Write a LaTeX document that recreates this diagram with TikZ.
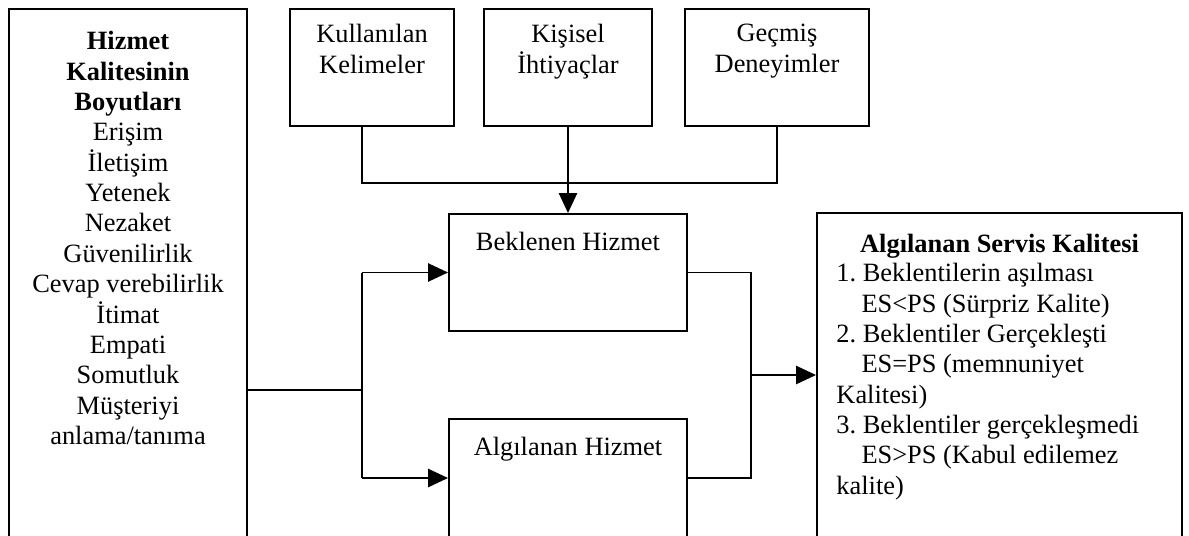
\documentclass[tikz,border=0pt]{standalone}
\usepackage{fontspec}
\setmainfont{Liberation Serif}
\usetikzlibrary{arrows.meta,fit}
\frenchspacing
\begin{document}
\begin{tikzpicture}[x=0.4545pt,y=-0.4545pt,
  box/.style={draw,line width=0.9pt,inner sep=0pt},
  txt/.style={inner sep=0pt,font=\fontsize{12}{13.8}\selectfont},
  link/.style={line width=0.9pt},
  arr/.style={link,-{Triangle[length=9pt,width=8.2pt]}}]
\useasboundingbox (0,0) rectangle (1189,535);
\clip (0,0) rectangle (1189,535);

% frames
\node[box,fit={(9,9) (247,560)}] (dims) {};
\node[box,fit={(290,9) (454,126)}] (k1) {};
\node[box,fit={(484,9) (652,126)}] (k2) {};
\node[box,fit={(685,9) (869,126)}] (k3) {};
\node[box,fit={(449,214) (687,331)}] (exp) {};
\node[box,fit={(449,419) (687,537)}] (per) {};
\node[box,fit={(817,213) (1182,560)}] (res) {};

% texts
\node[txt,anchor=north,align=center] (dimstxt) at (128,31)
  {\textbf{Hizmet}\\\textbf{Kalitesinin}\\\textbf{Boyutları}\\Erişim\\İletişim\\Yetenek\\Nezaket\\Güvenilirlik\\Cevap verebilirlik\\İtimat\\Empati\\Somutluk\\Müşteriyi\\anlama/tanıma};
\node[txt,anchor=north,align=center] (k1txt) at (372,24) {Kullanılan\\Kelimeler};
\node[txt,anchor=north,align=center] (k2txt) at (568,24) {Kişisel\\İhtiyaçlar};
\node[txt,anchor=north,align=center] (k3txt) at (777,24) {Geçmiş\\Deneyimler};
\node[txt,anchor=north] (exptxt) at (568,232) {Beklenen Hizmet};
\node[txt,anchor=north] (pertxt) at (568,437) {Algılanan Hizmet};
\node[txt,anchor=north,font=\fontsize{12}{13.8}\selectfont\bfseries] (restitle) at (999.5,234) {Algılanan Servis Kalitesi};
\node[txt,anchor=north west,align=left] (reslist) at (836,263)
  {1. Beklentilerin aşılması\\
   \hspace*{11.4pt}ES<PS (Sürpriz Kalite)\\
   2. Beklentiler Gerçekleşti\\
   \hspace*{11.4pt}ES=PS (memnuniyet\\
   Kalitesi)\\
   3. Beklentiler gerçekleşmedi\\
   \hspace*{11.4pt}ES>PS (Kabul edilemez\\
   kalite)};

% joining points
\coordinate (ja) at (362,183);
\coordinate (jb) at (777,183);
\coordinate (lj) at (362,390);
\coordinate (rj) at (751,375);

% top sources into expected service
\draw[link] (ja |- k1.south) -- (ja) -- (jb) -- (jb |- k3.south);
\draw[arr] (k2.south) -- (k2.south |- exp.north);

% dimensions split to both services
\draw[link] (dims.east |- lj) -- (lj);
\draw[link] (lj |- exp.west) -- (lj |- per.west);
\draw[arr] (lj |- exp.west) -- (exp.west);
\draw[arr] (lj |- per.west) -- (per.west);

% both services merge into perceived quality
\draw[link] (exp.east) -| (rj |- per.east) -- (per.east);
\draw[arr] (rj) -- (rj -| res.west);
\end{tikzpicture}
\end{document}
